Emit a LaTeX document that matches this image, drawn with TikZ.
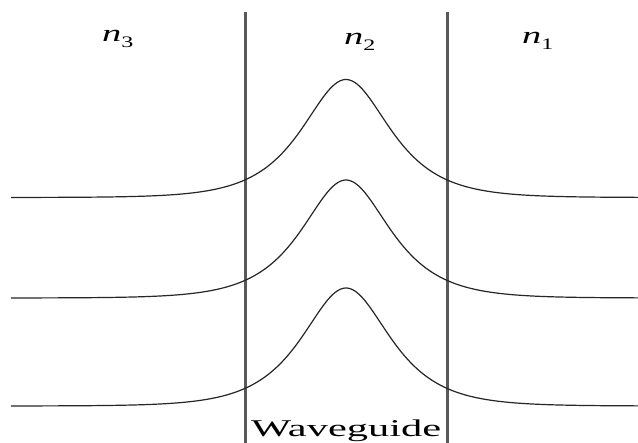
\documentclass[tikz,border=0pt]{standalone}
\usepackage{fontspec}
\setmainfont{Liberation Serif}
\begin{document}
\begin{tikzpicture}[x=1pt,y=-1pt,
  wall/.style={draw=black!65,line width=2.1pt},
  mode/.style={draw=black!85,line width=1.2pt},
  idx/.style={inner sep=0pt,anchor=base west,font=\fontsize{24}{24}\selectfont},
  lbl/.style={inner sep=0pt,anchor=base west,font=\fontsize{24}{24}\selectfont}]
\useasboundingbox (0,0) rectangle (638,443);
\fill[white] (0,0) rectangle (638,443);
% walls
\coordinate (wlt) at (245.5,12);
\coordinate (wlb) at (245.5,443);
\coordinate (wrt) at (447.5,12);
\coordinate (wrb) at (447.5,443);
\draw[wall] (wlt) -- (wlb);
\draw[wall] (wrt) -- (wrb);
% modes
\foreach \b in {197.5,298,406}{
  \draw[mode] plot[domain=11:638,samples=260,smooth] (\x,{\b-118/cosh((\x-346)/39)});
}
% labels
\node[idx] (n3) at (102,42) {\scalebox{1.6}[1]{\itshape n}\raisebox{-0.25em}{\scalebox{1.5}[1]{\fontsize{16}{16}\selectfont 3}}};
\node[idx] (n2) at (344,45) {\scalebox{1.6}[1]{\itshape n}\raisebox{-0.25em}{\scalebox{1.5}[1]{\fontsize{16}{16}\selectfont 2}}};
\node[idx] (n1) at (522,44) {\scalebox{1.6}[1]{\itshape n}\raisebox{-0.25em}{\scalebox{1.5}[1]{\fontsize{16}{16}\selectfont 1}}};
\node[lbl] (wg) at (251,437) {\scalebox{1.77}[1]{Waveguide}};
\end{tikzpicture}
\end{document}
